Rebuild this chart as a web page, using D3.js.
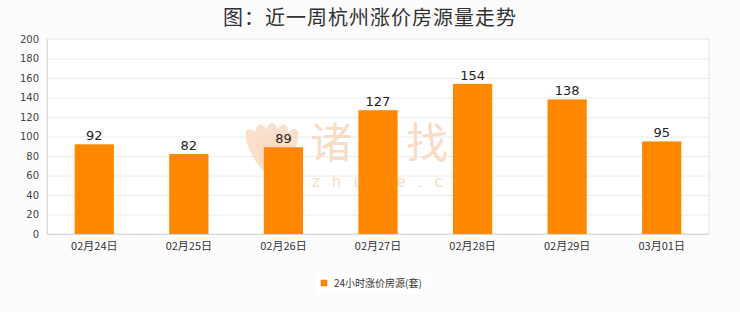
<!DOCTYPE html>
<html><head><meta charset="utf-8">
<script src="https://cdn.jsdelivr.net/npm/d3@7"></script>
<style>html,body{margin:0;padding:0;background:#fcfcfc;}svg{display:block;}</style>
</head><body><svg id="c" width="740" height="312"></svg>
<script>
const categories = ["02月24日","02月25日","02月26日","02月27日","02月28日","02月29日","03月01日"];
const values = [92,82,89,127,154,138,95];
const yTicks = [0,20,40,60,80,100,120,140,160,180,200];
const title = "图：近一周杭州涨价房源量走势";
const seriesName = "24小时涨价房源(套)";
const watermark = ["诸葛找房","zhuge.com"];

const svg = d3.select("#c");
const m = {l:47, r:31, t:39, b:78};
const W = 740, H = 312;
const x = d3.scaleBand().domain(categories).range([m.l, W-m.r]).paddingInner(0.585).paddingOuter(0.2925);
const y = d3.scaleLinear().domain([0,200]).range([H-m.b, m.t]);
const font = "'Noto Sans CJK SC','Noto Sans',sans-serif";

svg.append("rect").attr("x",m.l).attr("y",m.t).attr("width",W-m.l-m.r).attr("height",H-m.t-m.b).attr("fill","#fff").attr("stroke","#e3e3e3");

// grid
svg.append("g").selectAll("line").data(yTicks.filter(d=>d>0&&d<200)).join("line")
  .attr("x1",m.l).attr("x2",W-m.r).attr("y1",d=>y(d)+0.5).attr("y2",d=>y(d)+0.5)
  .attr("stroke","#ececec");

// watermark
const wm = svg.append("g").attr("fill","#f9dcc4");
const petals = [-30,-15,0,15,30];
wm.selectAll("ellipse").data(petals).join("ellipse")
  .attr("cx",272).attr("cy",150).attr("rx",9).attr("ry",27)
  .attr("transform",d=>`rotate(${d},272,172)`).attr("opacity",0.85);
wm.append("text").attr("x",310).attr("y",158).attr("font-size",42).attr("letter-spacing",6).attr("font-family",font).text(watermark[0]);
wm.append("text").attr("x",312).attr("y",187).attr("font-size",15).attr("letter-spacing",12).attr("font-family","'DejaVu Sans',sans-serif").text(watermark[1]);

// bars
svg.append("g").selectAll("rect").data(values).join("rect")
  .attr("x",(d,i)=>x(categories[i])).attr("width",x.bandwidth())
  .attr("y",d=>y(d)).attr("height",d=>y(0)-y(d)).attr("fill","#ff8800");

// value labels
svg.append("g").selectAll("text").data(values).join("text")
  .attr("x",(d,i)=>x(categories[i])+x.bandwidth()/2).attr("y",d=>y(d)-4)
  .attr("text-anchor","middle").attr("font-size",13).attr("fill","#222")
  .attr("font-family","'DejaVu Sans',sans-serif").text(d=>d);

// y axis
const ya = svg.append("g").attr("transform",`translate(${m.l},0)`)
  .call(d3.axisLeft(y).tickValues(yTicks).tickSize(0).tickPadding(8));
ya.select(".domain").attr("stroke","#d8d8d8");
ya.selectAll("text").attr("font-size",10).attr("fill","#444").attr("font-family","'DejaVu Sans',sans-serif");

// x axis
const xa = svg.append("g").attr("transform",`translate(0,${H-m.b})`)
  .call(d3.axisBottom(x).tickSize(0).tickPadding(8));
xa.select(".domain").attr("stroke","#d8d8d8");
xa.selectAll("text").attr("font-size",11).attr("fill","#333").attr("font-family",font);

// title
svg.append("text").attr("x",370).attr("y",25).attr("text-anchor","middle")
  .attr("font-size",20).attr("letter-spacing",1).attr("fill","#333").attr("font-family",font).text(title);

// legend
const lg = svg.append("g");
lg.append("rect").attr("x",315).attr("y",273).attr("width",110).attr("height",21).attr("fill","#fff");
lg.append("rect").attr("x",321).attr("y",280).attr("width",6).attr("height",6).attr("fill","#ff8800").attr("stroke","#d07020").attr("stroke-width",0.5);
lg.append("text").attr("x",334).attr("y",287).attr("font-size",10).attr("fill","#333").attr("font-family",font).text(seriesName);
</script></body></html>
